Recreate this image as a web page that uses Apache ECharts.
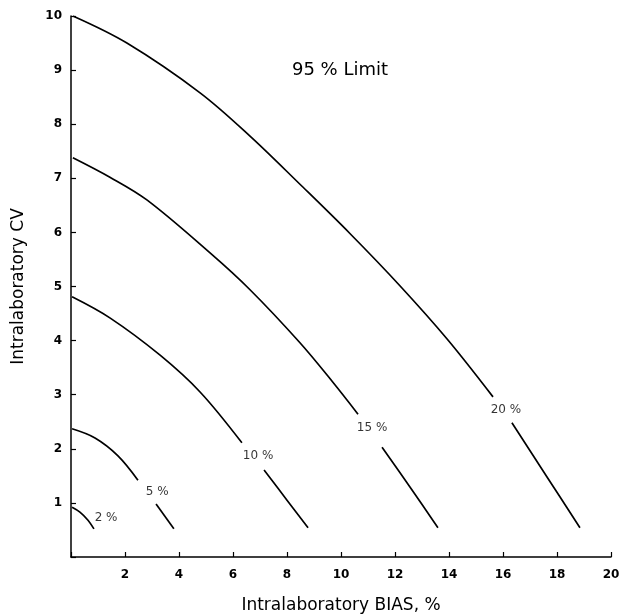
<!DOCTYPE html>
<html>
<head>
<meta charset="utf-8">
<script src="https://cdn.jsdelivr.net/npm/echarts@6/dist/echarts.min.js"></script>
<style>
 html, body { margin: 0; padding: 0; background: #fff; }
 #main { width: 620px; height: 616px; }
</style>
</head>
<body>
<div id="main"></div>
<script>
 // curves, [bias, cv]; each curve is broken where its label sits
 var curve20a = [[0.07,10.0],[2.07,9.50],[4.78,8.58],[6.63,7.78],[8.48,6.89],[10.33,5.98],[12.19,5.01],[13.93,4.03],[15.63,2.96]];
 var curve20b = [[16.33,2.48],[17.63,1.48],[18.85,0.54]];
 var curve15a = [[0.07,7.38],[1.44,7.02],[2.81,6.60],[5.15,5.62],[6.63,4.94],[8.48,3.96],[9.70,3.23],[10.63,2.64]];
 var curve15b = [[11.52,2.03],[12.56,1.29],[13.59,0.54]];
 var curve10a = [[0.04,4.81],[1.44,4.42],[3.30,3.73],[4.78,3.05],[6.33,2.11]];
 var curve10b = [[7.15,1.61],[8.0,1.05],[8.78,0.54]];
 var curve5a = [[0.04,2.37],[0.89,2.20],[1.74,1.87],[2.48,1.42]];
 var curve5b = [[3.15,0.98],[3.81,0.52]];
 var curve2 = [[0.04,0.92],[0.33,0.83],[0.63,0.68],[0.85,0.52]];

 var curveLabels = [[1.30,0.72,'2 %'],[3.19,1.20,'5 %'],[6.93,1.87,'10 %'],[11.15,2.38,'15 %'],[16.11,2.72,'20 %']];

 var xTicks = [2,4,6,8,10,12,14,16,18,20];
 var yTicks = [1,2,3,4,5,6,7,8,9,10];

 var myChart = echarts.init(document.getElementById('main'));

 var font = 'DejaVu Sans';

 function curve(data) {
    return {
        type: 'line',
        data: data,
        smooth: 0.35,
        showSymbol: false,
        silent: true,
        lineStyle: { color: '#000', width: 1.7 }
    };
 }

 var option = {
    backgroundColor: '#fff',
    animation: false,
    textStyle: { fontFamily: font },
    grid: { left: 71, right: 9, top: 16, bottom: 59, outerBoundsMode: 'none', containLabel: false },
    graphic: [{
        type: 'text',
        x: 340, y: 70,
        style: {
            text: '95 % Limit', font: '18px ' + font, fill: '#000',
            textAlign: 'center', textVerticalAlign: 'middle'
        }
    }],
    xAxis: {
        type: 'value',
        min: 0, max: 20, interval: 2,
        name: 'Intralaboratory BIAS, %',
        nameLocation: 'middle',
        nameGap: 40,
        nameTextStyle: { fontSize: 17, color: '#000', fontFamily: font },
        splitLine: { show: false },
        axisLine: { lineStyle: { color: '#000', width: 1.5 } },
        axisTick: { inside: true, length: 5, lineStyle: { color: '#000', width: 1.2 } },
        axisLabel: {
            color: '#000', fontSize: 12, fontWeight: 'bold', margin: 12,
            formatter: function (v) { return xTicks.indexOf(v) >= 0 ? String(v) : ''; }
        }
    },
    yAxis: {
        type: 'value',
        min: 0, max: 10, interval: 1,
        name: 'Intralaboratory CV',
        nameLocation: 'middle',
        nameGap: 44,
        nameTextStyle: { fontSize: 17, color: '#000', fontFamily: font },
        splitLine: { show: false },
        axisLine: { lineStyle: { color: '#000', width: 1.5 } },
        axisTick: { inside: true, length: 5, lineStyle: { color: '#000', width: 1.2 } },
        axisLabel: {
            color: '#000', fontSize: 12, fontWeight: 'bold', margin: 9,
            formatter: function (v) { return yTicks.indexOf(v) >= 0 ? String(v) : ''; }
        }
    },
    series: [
        curve(curve20a), curve(curve20b),
        curve(curve15a), curve(curve15b),
        curve(curve10a), curve(curve10b),
        curve(curve5a), curve(curve5b),
        curve(curve2),
        {
            type: 'scatter',
            symbolSize: 0,
            silent: true,
            data: curveLabels,
            label: {
                show: true,
                position: 'inside',
                color: '#000',
                fontSize: 12,
                fontFamily: font,
                formatter: function (p) { return p.data[2]; }
            }
        }
    ]
 };

 myChart.setOption(option);
</script>
</body>
</html>
